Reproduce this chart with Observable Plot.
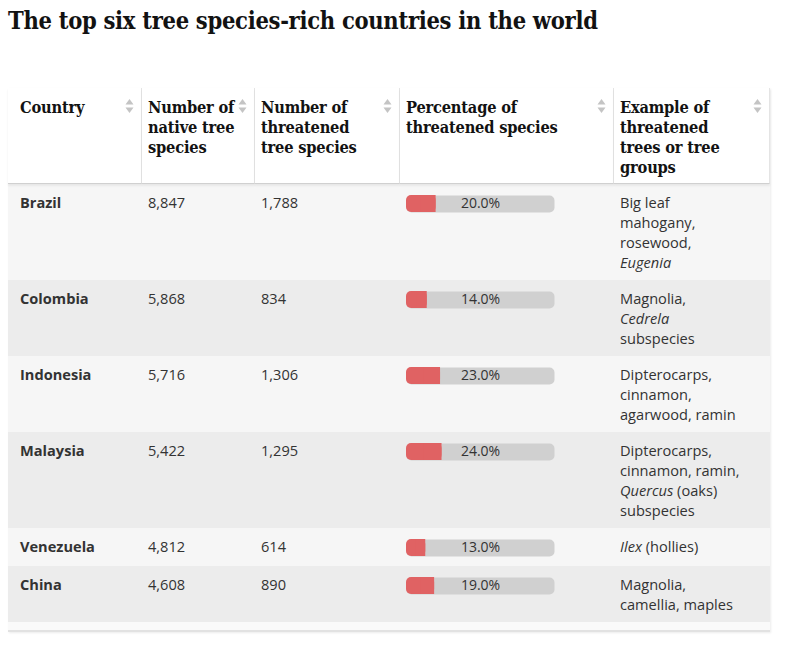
<!DOCTYPE html>
<html>
<head>
<meta charset="utf-8">
<script src="https://cdn.jsdelivr.net/npm/d3@7"></script>
<script src="https://cdn.jsdelivr.net/npm/@observablehq/plot@0.6"></script>
<style>
  html, body { margin: 0; padding: 0; background: #fff; }
  body { width: 800px; height: 646px; overflow: hidden; }
  h1 {
    margin: 0; padding: 5px 0 0 8px;
    font-family: "DejaVu Serif Condensed", "DejaVu Serif", serif;
    font-weight: bold; font-size: 23.5px; line-height: 32px; color: #121212;
    letter-spacing: -0.3px;
  }
  table {
    position: absolute; left: 8px; top: 88px; width: 762px;
    border-collapse: separate; border-spacing: 0;
    font-family: "Open Sans", sans-serif; font-size: 14.6px; line-height: 20px; color: #333;
    box-shadow: 1px 1px 2px rgba(0,0,0,0.08);
  }
  th {
    position: relative; text-align: left; vertical-align: top;
    font-family: "DejaVu Serif Condensed", "DejaVu Serif", serif; font-weight: bold;
    font-size: 16.3px; line-height: 20px; color: #121212; letter-spacing: -0.2px;
    padding: 10px 6px 5px 6px; background: #fff;
    border-right: 1px solid #e4e4e4; border-bottom: 1px solid #d0d0d0;
    box-shadow: 0 2px 2px rgba(0,0,0,0.06);
  }
  th:first-child { padding-left: 12px; }
  th .sort { position: absolute; right: 7px; top: 10px; }
  td { vertical-align: top; padding: 8px 6px; }
  td:first-child { padding-left: 12px; font-weight: bold; }
  .ln { display: block; white-space: nowrap; }
  tbody tr:nth-child(odd) td { background: #f6f6f6; }
  tbody tr:nth-child(even) td { background: #ececec; }
  td.bar { padding: 11px 6px 10px 6px; line-height: 0; }
  tfoot td { height: 8px; padding: 0; background: #fafafa; border-bottom: 2px solid #e2e2e2; }
</style>
</head>
<body>
<h1>The top six tree species-rich countries in the world</h1>
<table id="tbl">
  <colgroup>
    <col style="width:134px"><col style="width:113px"><col style="width:145px"><col style="width:214px"><col style="width:156px">
  </colgroup>
  <thead><tr id="head"></tr></thead>
  <tbody id="body"></tbody>
  <tfoot><tr><td colspan="5"></td></tr></tfoot>
</table>
<script>
const headers = ["Country", "Number of\nnative tree\nspecies", "Number of\nthreatened\ntree species", "Percentage of\nthreatened species", "Example of\nthreatened\ntrees or tree\ngroups"];
const countries = ["Brazil", "Colombia", "Indonesia", "Malaysia", "Venezuela", "China"];
const nativeSpecies = [8847, 5868, 5716, 5422, 4812, 4608];
const threatenedSpecies = [1788, 834, 1306, 1295, 614, 890];
const pctThreatened = [20, 14, 23, 24, 13, 19];
const examples = [
  "Big leaf\nmahogany,\nrosewood,\n<i>Eugenia</i>",
  "Magnolia,\n<i>Cedrela</i>\nsubspecies",
  "Dipterocarps,\ncinnamon,\nagarwood, ramin",
  "Dipterocarps,\ncinnamon, ramin,\n<i>Quercus</i> (oaks)\nsubspecies",
  "<i>Ilex</i> (hollies)",
  "Magnolia,\ncamellia, maples"
];

const lines = s => s.split("\n").map(l => `<span class="ln">${l}</span>`).join("");

const sortIcon = '<svg class="sort" width="9" height="16" viewBox="0 0 9 16"><path d="M4.5 1 L8.5 6.5 L0.5 6.5 Z" fill="#c4c4c4"/><path d="M4.5 15 L8.5 9.5 L0.5 9.5 Z" fill="#c4c4c4"/></svg>';

const head = document.getElementById("head");
headers.forEach(h => {
  const th = document.createElement("th");
  th.innerHTML = lines(h) + sortIcon;
  head.appendChild(th);
});

const fmt = d3.format(",");
const rows = countries.map((c, i) => ({
  country: c, native: nativeSpecies[i], threatened: threatenedSpecies[i],
  pct: pctThreatened[i], example: examples[i]
}));

const body = document.getElementById("body");
rows.forEach(r => {
  const tr = document.createElement("tr");
  const td = (html, cls) => { const e = document.createElement("td"); if (cls) e.className = cls; e.innerHTML = html; tr.appendChild(e); return e; };
  td(r.country);
  td(fmt(r.native));
  td(fmt(r.threatened));
  const cell = td("", "bar");
  const svg = Plot.plot({
    width: 148, height: 17,
    marginTop: 0, marginBottom: 0, marginLeft: 0, marginRight: 0,
    x: {domain: [0, 100], axis: null},
    style: {background: "transparent", fontFamily: "Open Sans, sans-serif", overflow: "visible", display: "block"},
    marks: [
      Plot.frame({fill: "#d0d0d0", stroke: null, rx: 5}),
      Plot.barX([r], {x: "pct", fill: "#e06263", rx: 5}),
      Plot.barX([r], {x1: d => d.pct / 2, x2: "pct", fill: "#e06263"}),
      Plot.text([r], {frameAnchor: "middle", text: d => d.pct.toFixed(1) + "%", fontSize: 14, fill: "#333"})
    ]
  });
  cell.appendChild(svg);
  td(lines(r.example));
  body.appendChild(tr);
});
</script>
</body>
</html>
